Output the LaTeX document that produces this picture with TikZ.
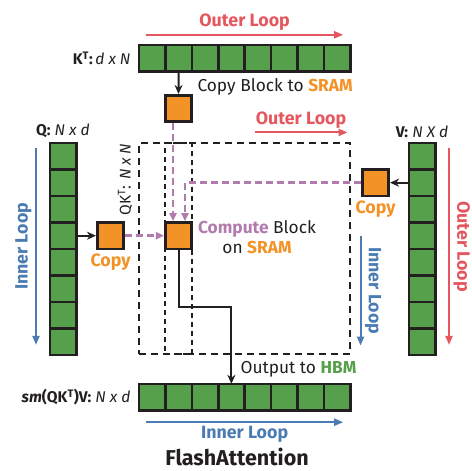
\documentclass[tikz,border=0pt]{standalone}
\usepackage{fontspec}
\setmainfont{Fira Sans}
\usetikzlibrary{positioning,arrows.meta}
\definecolor{hbmgreen}{HTML}{56A04B}
\definecolor{sramorange}{HTML}{F39226}
\definecolor{outerred}{HTML}{E4575E}
\definecolor{innerblue}{HTML}{4A7CB3}
\definecolor{computepurple}{HTML}{B27BAE}
\definecolor{inkdark}{HTML}{231F20}
\tikzset{
	x=1pt, y=-1pt, % pixel-like coordinates, y grows downwards
	every node/.style={font=\fontsize{17.3}{20}\selectfont, text=inkdark},
	matlabel/.style={font=\fontsize{15.5}{17}\selectfont},
	looplabel/.style={font=\fontsize{17.8}{20}\selectfont\bfseries},
	cell/.style={draw=inkdark, fill=hbmgreen, line width=2.6pt, minimum size=26.4pt, inner sep=0pt, outer sep=0pt},
	sramblock/.style={draw=inkdark, fill=sramorange, line width=2.6pt, minimum size=26.5pt, inner sep=0pt},
	qkframe/.style={draw=inkdark, line width=1.1pt, dash pattern=on 7pt off 5pt, inner sep=0pt},
	outerloop/.style={draw=outerred, line width=2pt, -{Triangle[length=9pt,width=7pt]}},
	innerloop/.style={draw=innerblue, line width=2pt, -{Triangle[length=9pt,width=7pt]}},
	copyto/.style={draw=inkdark, line width=2pt, -{Stealth[length=9pt,width=8pt]}},
	sramflow/.style={draw=computepurple, line width=2.6pt, dash pattern=on 7pt off 4pt, -{Triangle[length=8pt,width=7pt]}},
}
\begin{document}
\begin{tikzpicture}
	\useasboundingbox (0,0) rectangle (472,471);
	% HBM matrices
	\foreach \i in {1,...,8} {
		\node[cell] (k\i) at ({152.2+26.4*(\i-1)},58) {};
		\node[cell] (o\i) at ({152.2+26.4*(\i-1)},397) {};
		\node[cell] (q\i) at (63,{156.2+26.5*(\i-1)}) {};
		\node[cell] (v\i) at (422,{156.2+26.5*(\i-1)}) {};
	}
	\node[matlabel, anchor=east] (klabel) at (134,58) {\textbf{K\textsuperscript{T}:}\,\textit{d x N}};
	\node[matlabel, above=2pt of q1] (qlabel) {\textbf{Q:} \textit{N x d}};
	\node[matlabel, above=2pt of v1] (vlabel) {\textbf{V:} \textit{N X d}};
	\node[matlabel, anchor=east] (olabel) at (134,397) {\textbf{\textit{sm}(QK\textsuperscript{T})V:} \textit{N x d}};
	
	% QK^T
	\node[qkframe, minimum width=211pt, minimum height=211pt] (qk) at (244.5,248.5) {};
	\node[qkframe, dash pattern=on 5pt off 4pt, minimum width=27pt, minimum height=211pt] (qkcol) at (178.5,248.5) {};
	\node[matlabel, rotate=90, anchor=east] (qklabel) at (125,140) {QK\textsuperscript{T}: \textit{N x N}};
	
	% SRAM blocks
	\node[sramblock] (kcopy) at (178.5,108.5) {};
	\node[sramblock] (qcopy) at (110.5,235.7) {};
	\node[sramblock] (compute) at (178.5,235.7) {};
	\node[sramblock] (vcopy) at (375.5,182.7) {};
	\node[looplabel, below=0pt of qcopy, text=sramorange] (qcopytext) {Copy};
	\node[looplabel, below=0pt of vcopy, text=sramorange] (vcopytext) {Copy};
	\node[anchor=west] (kcopytext) at (194,87) {Copy Block to \textbf{\color{sramorange}SRAM}};
	\node[align=center] (computetext) at (257,237) {\textbf{\color{computepurple}Compute} Block\\on \textbf{\color{sramorange}SRAM}};
	\node[anchor=west] (outtext) at (237,369) {Output to \textbf{\color{hbmgreen}HBM}};
	
	% copies and output
	\draw[copyto] (k2.south) -- (kcopy.north);
	\draw[copyto] (q4.east) -- (qcopy.west);
	\draw[copyto] (v2.west) -- (vcopy.east);
	\draw[sramflow] ([xshift=-5.5pt]kcopy.south) -- ([xshift=-5.5pt]compute.north);
	\draw[sramflow] (qcopy.east) -- (compute.west);
	\draw[sramflow] (vcopy.west) -| ([xshift=6.5pt]compute.north);
	\draw[copyto] (compute.south) -- ++(0,57) -| (o4.north);
	
	% loops
	\draw[outerloop] ([xshift=7pt,yshift=10pt]k1.north west) -- ([xshift=-7pt,yshift=10pt]k8.north east)
		node[looplabel, midway, above=0pt, text=outerred] (kloop) {Outer Loop};
	\draw[outerloop] ([xshift=10pt,yshift=10pt]qk.north) -- ([xshift=-3pt,yshift=10pt]qk.north east)
		node[looplabel, midway, above=0pt, text=outerred] (qkloop) {Outer Loop};
	\draw[innerloop] ([xshift=-27pt,yshift=-5pt]q1.north) -- ([xshift=-27pt,yshift=10pt]q8.south)
		node[looplabel, midway, rotate=90, above=0pt, text=innerblue] (qloop) {Inner Loop};
	\draw[outerloop] ([xshift=27pt,yshift=-5pt]v1.north) -- ([xshift=27pt,yshift=10pt]v8.south)
		node[looplabel, midway, rotate=-90, above=0pt, text=outerred] (vloop) {Outer Loop};
	\draw[innerloop] ([xshift=10pt]qk.east |- compute.center) -- ([xshift=10pt,yshift=9pt]qk.south east)
		node[looplabel, midway, rotate=-90, above=0pt, text=innerblue] (vqloop) {Inner Loop};
	\draw[innerloop] ([xshift=7pt,yshift=-12pt]o1.south west) -- ([xshift=-7pt,yshift=-12pt]o8.south east)
		node[looplabel, midway, below=0pt, text=innerblue] (oloop) {Inner Loop};
	
	\node[anchor=base, inner sep=1pt, font=\fontsize{21.5}{24}\selectfont\bfseries] (title) at (237,465) {FlashAttention};
\end{tikzpicture}
\end{document}
